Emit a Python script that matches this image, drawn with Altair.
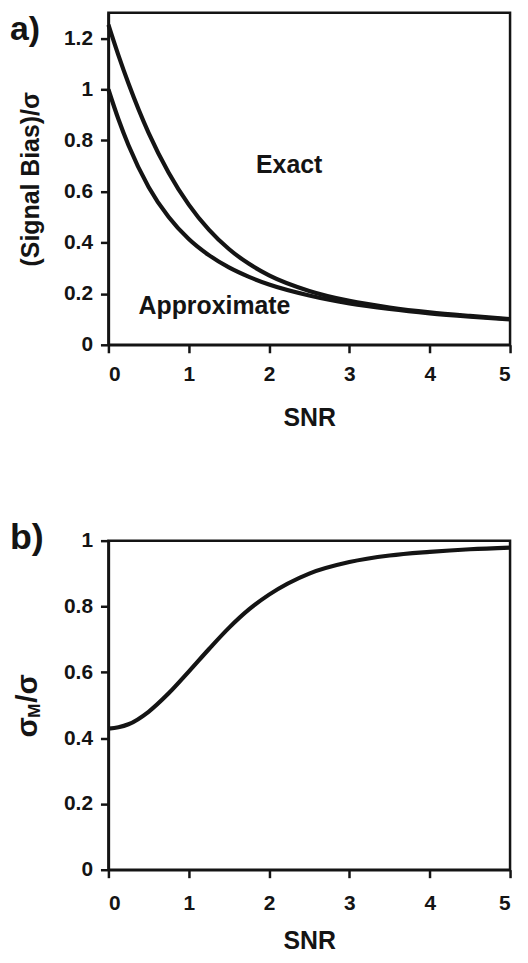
import altair as alt
import pandas as pd

# ---- data ----
snr = [0, 0.125, 0.25, 0.5, 0.75, 1.0, 1.25, 1.5, 1.75, 2.0, 2.5, 3.0, 3.5, 4.0, 4.5, 5.0]
bias_exact = [1.253, 1.133, 1.023, 0.830, 0.674, 0.549, 0.451, 0.375, 0.317, 0.272,
              0.211, 0.172, 0.146, 0.127, 0.113, 0.101]
bias_approx = [1.000, 0.883, 0.781, 0.618, 0.500, 0.414, 0.351, 0.303, 0.266, 0.236,
               0.193, 0.162, 0.140, 0.123, 0.110, 0.099]
sigma_ratio = [0.429, 0.433, 0.442, 0.480, 0.536, 0.602, 0.670, 0.735, 0.791, 0.836,
               0.900, 0.935, 0.955, 0.966, 0.974, 0.979]

x_ticks = [0, 1, 2, 3, 4, 5]
y_ticks_a = [0, 0.2, 0.4, 0.6, 0.8, 1.0, 1.2]
y_ticks_b = [0, 0.2, 0.4, 0.6, 0.8, 1.0]

ann_labels = ["Exact", "Approximate"]
ann_snr = [2.25, 1.32]
ann_val = [0.705, 0.152]

panel_labels = ["a)", "b)"]
ytitle_b_parts = ["σ", "M", "/σ"]

FONT = "Liberation Sans"
INK = "#141414"

df_a = pd.DataFrame({
    "snr": snr * 2,
    "bias": bias_exact + bias_approx,
    "curve": ["Exact"] * len(snr) + ["Approximate"] * len(snr),
})
df_b = pd.DataFrame({"snr": snr, "ratio": sigma_ratio})
df_ann = pd.DataFrame({"snr": ann_snr, "bias": ann_val, "label": ann_labels})

W = 404


def x_enc(label_pad, title_pad):
    return alt.X("snr:Q", scale=alt.Scale(domain=[0, 5], nice=False),
                 axis=alt.Axis(values=x_ticks, title="SNR", format="~g",
                               labelPadding=label_pad, titlePadding=title_pad))


def panel_label(txt, yv, size):
    return alt.Chart(pd.DataFrame({"t": [txt]})).mark_text(
        font=FONT, fontSize=size, fontWeight="bold", color=INK, align="left", baseline="alphabetic"
    ).encode(x=alt.value(-99), y=alt.value(yv), text="t:N")


# ---- panel a ----
lines_a = alt.Chart(df_a).mark_line(color=INK, strokeWidth=4.2, interpolate="monotone").encode(
    x=x_enc(11, 21),
    y=alt.Y("bias:Q", scale=alt.Scale(domain=[0, 1.3], nice=False),
            axis=alt.Axis(values=y_ticks_a, title="(Signal Bias)/σ", format="~g",
                          titlePadding=20)),
    detail="curve:N",
)
ann_a = alt.Chart(df_ann).mark_text(font=FONT, fontSize=25, fontWeight="bold", color=INK).encode(
    x="snr:Q", y="bias:Q", text="label:N"
)
panel_a = alt.layer(lines_a, ann_a, panel_label(panel_labels[0], 27, 34)).properties(
    width=W, height=334)

# ---- panel b ----
line_b = alt.Chart(df_b).mark_line(color=INK, strokeWidth=4.2, interpolate="monotone").encode(
    x=x_enc(15, 15),
    y=alt.Y("ratio:Q", scale=alt.Scale(domain=[0, 1], nice=False),
            axis=alt.Axis(values=y_ticks_b, title=None, format="~g")),
)


def ytitle_piece(txt, xv, yv, size):
    return alt.Chart(pd.DataFrame({"t": [txt]})).mark_text(
        font=FONT, fontSize=size, fontWeight="bold", color=INK, align="left",
        baseline="alphabetic", angle=270
    ).encode(x=alt.value(xv), y=alt.value(yv), text="t:N")


yt1 = ytitle_piece(ytitle_b_parts[0], -72, 198, 30)
yt2 = ytitle_piece(ytitle_b_parts[1], -69, 178, 17)
yt3 = ytitle_piece(ytitle_b_parts[2], -72, 163, 30)

panel_b = alt.layer(line_b, panel_label(panel_labels[1], 8, 36), yt1, yt2, yt3).properties(
    width=W, height=331)

chart = alt.vconcat(panel_a, panel_b, spacing=86).properties(
    padding={"left": 0, "top": 0, "right": 0, "bottom": 0}
).configure_view(
    stroke=INK, strokeWidth=2.5
).configure_axis(
    grid=False,
    domainColor=INK, domainWidth=2.5,
    tickColor=INK, tickWidth=2.5, tickSize=8,
    labelFont=FONT, labelFontSize=21, labelFontWeight="bold", labelColor=INK,
    labelPadding=8,
    titleFont=FONT, titleFontSize=25, titleFontWeight="bold", titleColor=INK,
)

chart.save("out.html", embed_options={"renderer": "svg", "actions": False})
